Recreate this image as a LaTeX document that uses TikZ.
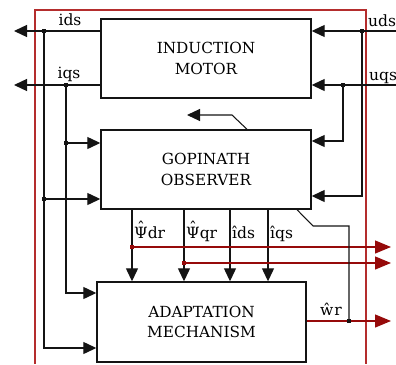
\documentclass[tikz,border=0pt]{standalone}
\usepackage{fontspec}
\setmainfont{DejaVu Serif}
\usetikzlibrary{arrows.meta}
\definecolor{framered}{RGB}{180,45,45}
\definecolor{sigred}{RGB}{150,10,10}
\definecolor{ink}{RGB}{20,20,20}
\newcommand\dfont{\fontsize{15.3}{20.5}\selectfont}
\newcommand\lfont{\fontsize{15.5}{20}\selectfont}
\newcommand\hatover[1]{\leavevmode\ooalign{#1\cr\hidewidth\raisebox{0.3em}{ˆ}\hidewidth\cr}}
\begin{document}
\begin{tikzpicture}[x=1pt,y=-1pt,
  box/.style={draw=ink, line width=1.4pt, fill=white, align=center, font=\dfont, inner sep=0pt},
  wire/.style={draw=ink, line width=1.25pt},
  thinwire/.style={draw=ink, line width=1.05pt},
  rwire/.style={draw=sigred, line width=1.25pt},
  framew/.style={draw=framered, line width=1.2pt},
  arr/.style={-{Triangle[length=13pt,width=12pt]}},
  rarr/.style={-{Triangle[length=16pt,width=13pt]}},
  lbl/.style={font=\lfont, inner sep=0pt, anchor=base west},
  clbl/.style={font=\lfont, inner sep=0pt, anchor=base}]
\useasboundingbox (0,0) rectangle (396,364);
% frame
\draw[framew] (35,364) -- (35,10) -- (366,10) -- (366,364);
% blocks
\node[box, minimum width=210pt, minimum height=79pt] (motor) at (206,58.5) {INDUCTION\\MOTOR};
\node[box, minimum width=210pt, minimum height=79pt] (obs) at (206,169.5) {GOPINATH\\OBSERVER};
\node[box, minimum width=209pt, minimum height=80pt] (adapt) at (201.5,322) {ADAPTATION\\MECHANISM};
% left side currents
\coordinate (idsL) at (14,31);
\coordinate (jids) at (44,31);
\coordinate (iqsL) at (14,85);
\coordinate (jiqs) at (66,85);
\coordinate (jids2) at (44,199);
\coordinate (jiqs2) at (66,143);
\draw[wire,arr] (motor.west |- jids) -- (idsL);
\draw[wire,arr] (motor.west |- jiqs) -- (iqsL);
\draw[wire,arr] (jids) |- (adapt.west |- 0,348);
\draw[wire,arr] (jiqs) |- (adapt.west |- 0,293);
\draw[wire,arr] (jids2) -- (obs.west |- jids2);
\draw[wire,arr] (jiqs2) -- (obs.west |- jiqs2);
\node[clbl] (lids) at (70,25) {ids};
\node[clbl] (liqs) at (69,78) {iqs};
% right side voltages
\coordinate (udsR) at (396,31);
\coordinate (juds) at (362,31);
\coordinate (uqsR) at (396,85);
\coordinate (juqs) at (343,85);
\draw[wire,arr] (udsR) -- (motor.east |- udsR);
\draw[wire,arr] (uqsR) -- (motor.east |- uqsR);
\draw[wire,arr] (juds) |- (obs.east |- 0,196);
\draw[wire,arr] (juqs) |- (obs.east |- 0,141);
\node[lbl] (luds) at (368,27) {uds};
\node[lbl] (luqs) at (369,80) {uqs};
% observer top feedback
\coordinate (fbK) at (232,115);
\coordinate (fbT) at (187,115);
\draw[thinwire,arr] (obs.north -| 247,0) -- (fbK) -- (fbT);
% observer outputs
\foreach \xx in {132,184,230,268}
  \draw[wire,arr] (obs.south -| \xx,0) -- (adapt.north -| \xx,0);
\node[lbl] (lpdr) at (134,238) {\hatover{Ψ}dr};
\node[lbl] (lpqr) at (186,238) {\hatover{Ψ}qr};
\node[lbl] (lids2) at (232,238) {îds};
\node[lbl] (liqs2) at (270,238) {îqs};
% red flux outputs
\coordinate (jpdr) at (132,247);
\coordinate (jpqr) at (184,263);
\coordinate (pdrE) at (391,247);
\coordinate (pqrE) at (391,263);
\draw[rwire,rarr] (jpdr) -- (pdrE);
\draw[rwire,rarr] (jpqr) -- (pqrE);
% speed output
\coordinate (wrE) at (391,321);
\coordinate (jwr) at (349,321);
\draw[rwire,rarr] (adapt.east |- wrE) -- (wrE);
\draw[thinwire] (obs.south -| 297,0) -- (313,226) -- (349,226) -- (jwr);
\node[lbl] (lwr) at (320,315) {ŵr};
% junction dots
\foreach \p in {jids,jiqs,jids2,jiqs2,juds,juqs,jwr}
  \fill[ink] (\p) +(-1.8,-1.8) rectangle +(1.8,1.8);
\foreach \p in {jpdr,jpqr}
  \fill[sigred] (\p) +(-1.8,-1.8) rectangle +(1.8,1.8);
\end{tikzpicture}
\end{document}
